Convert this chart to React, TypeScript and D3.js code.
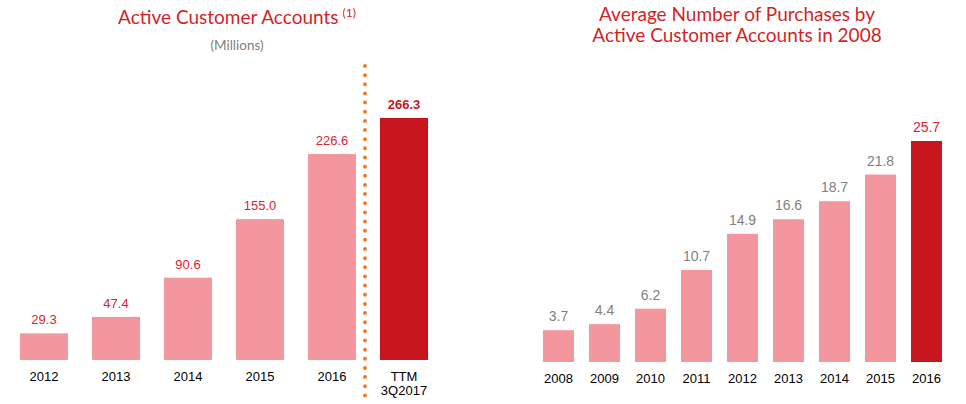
import React from "react";
import * as d3 from "d3";

const leftCategories = ["2012", "2013", "2014", "2015", "2016", "TTM\n3Q2017"];
const leftValues = [29.3, 47.4, 90.6, 155.0, 226.6, 266.3];
const rightCategories = ["2008", "2009", "2010", "2011", "2012", "2013", "2014", "2015", "2016"];
const rightValues = [3.7, 4.4, 6.2, 10.7, 14.9, 16.6, 18.7, 21.8, 25.7];

const PINK = "#f3969e";
const DARK = "#c8161f";
const TITLE_RED = "#d41f27";
const LABEL_RED = "#d9232d";
const GRAY = "#7f7f7f";
const TITLE_FONT = "Lato, 'Open Sans', sans-serif";
const LABEL_FONT = "'Liberation Sans', Arial, sans-serif";

export default function App() {
  const xL = d3.scaleBand<string>().domain(leftCategories).range([8, 8 + 72 * 6]).paddingInner(1 / 3).paddingOuter(1 / 6);
  const yL = d3.scaleLinear().domain([0, 266.3]).range([360, 118]);
  const xR = d3.scaleBand<string>().domain(rightCategories).range([535.5, 535.5 + 46 * 9]).paddingInner(15 / 46).paddingOuter(7.5 / 46);
  const yR = d3.scaleLinear().domain([0, 25.7]).range([362, 141]);

  return (
    <svg width={966} height={404} style={{ position: "absolute", left: 0, top: 0, background: "#fff" }}>
      {/* Left title */}
      <text x={237} y={24} textAnchor="middle" fontFamily={TITLE_FONT} fontSize={19} fill={TITLE_RED}>
        Active Customer Accounts
        <tspan fontSize={12} dx={4} dy={-7}>(1)</tspan>
      </text>
      <text x={237} y={50} textAnchor="middle" fontFamily={TITLE_FONT} fontSize={13.5} fill={GRAY}>(Millions)</text>

      {/* Left bars */}
      {leftCategories.map((c, i) => {
        const last = i === leftCategories.length - 1;
        const x = xL(c)!;
        const w = xL.bandwidth();
        const v = leftValues[i];
        const lines = c.split("\n");
        return (
          <g key={c}>
            <rect x={x} y={yL(v)} width={w} height={yL(0) - yL(v)} fill={last ? DARK : PINK} />
            <text x={x + w / 2} y={yL(v) - 9} textAnchor="middle" fontFamily={LABEL_FONT} fontSize={13}
              fontWeight={last ? "bold" : "normal"} fill={last ? DARK : LABEL_RED}>{v.toFixed(1)}</text>
            {lines.map((l, j) => (
              <text key={j} x={x + w / 2} y={381 + j * 14} textAnchor="middle" fontFamily={LABEL_FONT} fontSize={13} fill="#000">{l}</text>
            ))}
          </g>
        );
      })}

      {/* Dotted separator */}
      <line x1={365} x2={365} y1={66} y2={404} stroke="#f07b22" strokeWidth={4} strokeLinecap="round" strokeDasharray="0 9.15" />

      {/* Right title */}
      <text x={737} y={21} textAnchor="middle" fontFamily={TITLE_FONT} fontSize={19} fill={TITLE_RED}>Average Number of Purchases by</text>
      <text x={737} y={42} textAnchor="middle" fontFamily={TITLE_FONT} fontSize={19} fill={TITLE_RED}>Active Customer Accounts in 2008</text>

      {/* Right bars */}
      {rightCategories.map((c, i) => {
        const last = i === rightCategories.length - 1;
        const x = xR(c)!;
        const w = xR.bandwidth();
        const v = rightValues[i];
        return (
          <g key={c}>
            <rect x={x} y={yR(v)} width={w} height={yR(0) - yR(v)} fill={last ? DARK : PINK} />
            <text x={x + w / 2} y={yR(v) - 9} textAnchor="middle" fontFamily={LABEL_FONT} fontSize={14}
              fill={last ? LABEL_RED : GRAY}>{v.toFixed(1)}</text>
            <text x={x + w / 2} y={383} textAnchor="middle" fontFamily={LABEL_FONT} fontSize={13} fill="#000">{c}</text>
          </g>
        );
      })}
    </svg>
  );
}
